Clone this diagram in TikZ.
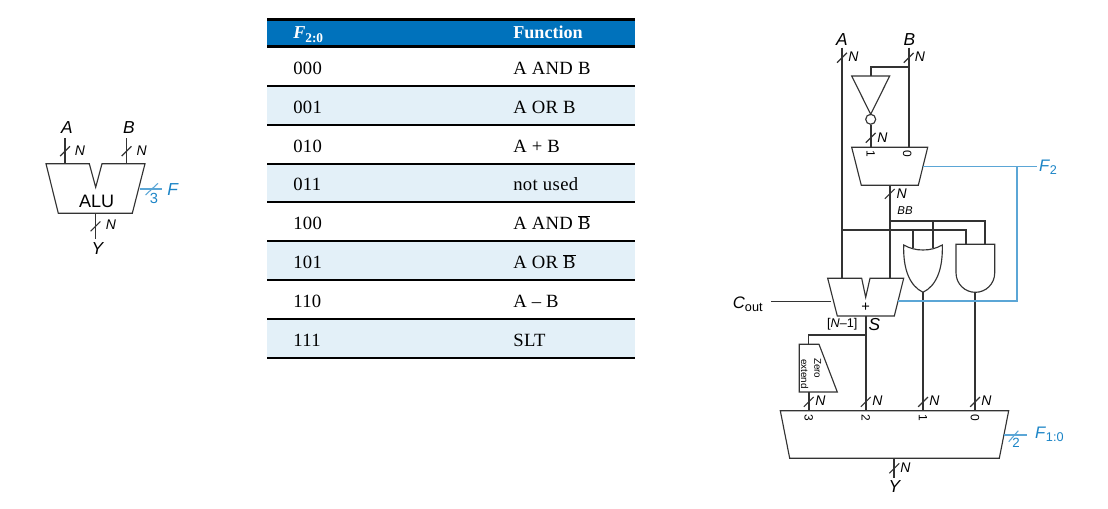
\documentclass[tikz,border=0pt]{standalone}
\usepackage{fontspec}
\setmainfont{Liberation Sans}
\newfontfamily\tabfont{Liberation Serif}[LetterSpace=2]
\newfontfamily\tabhfont{Liberation Serif}
\usetikzlibrary{calc}
\definecolor{wirec}{HTML}{333333}
\definecolor{bluet}{HTML}{1B84C6}
\definecolor{bluel}{HTML}{5BA6D6}
\definecolor{headb}{HTML}{0072BC}
\definecolor{rowb}{HTML}{E3F0F8}
\tikzset{
  wire/.style={draw=wirec,line width=1.3pt},
  thinw/.style={draw=wirec,line width=.9pt},
  gate/.style={draw=wirec,line width=.85pt,line join=miter},
  bluew/.style={draw=bluel,line width=1.2pt},
  lbl/.style={inner sep=0pt,text=black,font=\fontsize{13}{14}\selectfont\itshape},
  nlbl/.style={inner sep=0pt,text=black,font=\fontsize{10.5}{12}\selectfont\itshape},
  bb/.style={inner sep=0pt,text=black,font=\fontsize{8.5}{10}\selectfont\itshape},
  bluelbl/.style={inner sep=0pt,text=bluet,font=\fontsize{12.5}{14}\selectfont},
  pin/.style={inner sep=0pt,rotate=-90,text=black,font=\fontsize{9}{10}\selectfont},
  tabt/.style={inner sep=0pt,anchor=base west,font=\fontsize{14}{15}\tabfont},
  tabh/.style={inner sep=0pt,anchor=base west,text=white,font=\fontsize{13.6}{15}\tabhfont\bfseries},
  rulethin/.style={draw=black,line width=1.3pt},
  rulethick/.style={draw=black,line width=2.1pt},
}
\newcommand{\busmark}[1]{\draw[thinw] ([shift={(-4.9,4.9)}]#1) -- ([shift={(4.9,-4.9)}]#1);}
\newcommand{\barB}{$\overline{\mbox{\tabhfont B}}$}
\begin{document}
\begin{tikzpicture}[x=0.75pt,y=-0.75pt]
\useasboundingbox (0,0) rectangle (1108,509);
% ---------- table ----------
\fill[headb] (267,20) rectangle (635,46);
\fill[rowb] (267,86) rectangle (635,124.7);
\fill[rowb] (267,164) rectangle (635,201.7);
\fill[rowb] (267,240.7) rectangle (635,279.7);
\fill[rowb] (267,318.7) rectangle (635,357.7);
\draw[rulethick] (267,19.6) -- (635,19.6);
\draw[rulethick] (267,46.4) -- (635,46.4);
\foreach \yy in {86,124.7,164,201.7,240.7,279.7,318.7,357.7}
  \draw[rulethin] (267,\yy) -- (635,\yy);
\node[tabh] (h1) at (293,39) {\itshape F\raisebox{-2.5pt}{\upshape\fontsize{10}{11}\selectfont 2:0}};
\node[tabh] (h2) at (513,38.5) {Function};
\node[tabt] (c1a) at (293,75) {000};   \node[tabt] (c1b) at (513,75) {A AND B};
\node[tabt] (c2a) at (293,113.5) {001};\node[tabt] (c2b) at (513,113.5) {A OR B};
\node[tabt] (c3a) at (293,152.5) {010};\node[tabt] (c3b) at (513,152.5) {A + B};
\node[tabt] (c4a) at (293,191) {011};  \node[tabt] (c4b) at (513,191) {not used};
\node[tabt] (c5a) at (293,230) {100};  \node[tabt] (c5b) at (513,230) {A AND \barB};
\node[tabt] (c6a) at (293,269) {101};  \node[tabt] (c6b) at (513,269) {A OR \barB};
\node[tabt] (c7a) at (293,308) {110};  \node[tabt] (c7b) at (513,308) {A – B};
\node[tabt] (c8a) at (293,347) {111};  \node[tabt] (c8b) at (513,347) {SLT};
% ---------- small ALU symbol ----------
\draw[gate] (46,163.7) coordinate (aluTL) -- (89.3,163.7) -- (95.7,187.3) -- (102,163.7) -- (145,163.7) coordinate (aluTR)
  -- (132.3,213.3) -- (58.3,213.3) -- cycle;
\node[inner sep=0pt,font=\fontsize{13.5}{14}\selectfont] (alu) at (96.7,201) {ALU};
\node[lbl] (aluA) at (67,128) {A};
\node[lbl] (aluB) at (129,128) {B};
\node[lbl] (aluY) at (97.3,248.3) {Y};
\coordinate (aluAin) at (65,163.7);
\coordinate (aluBin) at (126.5,163.7);
\coordinate (aluAtop) at (65,138.3);
\coordinate (aluBtop) at (126.5,138.3);
\coordinate (aluYo) at (95.5,213.3);
\coordinate (aluYe) at (95.5,239.3);
\draw[wire] (aluAtop) -- (aluAin);
\draw[wire] (aluBtop) -- (aluBin);
\draw[wire] (aluYo) -- (aluYe);
\coordinate (m1) at (65,151.2); \busmark{m1}
\coordinate (m2) at (126.5,151.2); \busmark{m2}
\coordinate (m3) at (95.5,226.4); \busmark{m3}
\node[nlbl] (aluN1) at (80,150.7) {N};
\node[nlbl] (aluN2) at (141.7,150.7) {N};
\node[nlbl] (aluN3) at (111,225) {N};
\coordinate (aluFi) at (140,189);
\coordinate (aluFe) at (162.3,189);
\draw[bluew] (aluFi) -- (aluFe);
\draw[bluew,line width=.8pt] (145.5,195) -- (158,183.3);
\node[inner sep=0pt,text=bluet,font=\fontsize{11}{12}\selectfont] (alu3) at (154,198.5) {3};
\node[bluelbl,font=\fontsize{13}{14}\selectfont\itshape] (aluF) at (172.7,189.3) {F};
% ---------- full ALU: muxes and gates ----------
\draw[gate] (851.7,147.3) -- (927.7,147.3) -- (918.3,185.3) -- (861.3,185.3) -- cycle;
\draw[gate] (827.7,278.3) -- (861.7,278.3) -- (865.7,297.3) -- (870,278.3) -- (903.7,278.3)
  -- (894.3,316) -- (837.3,316) -- cycle;
\draw[gate] (780.3,410.7) -- (1008.7,410.7) -- (999.3,458.3) -- (789.7,458.3) -- cycle;
\draw[gate] (799.3,344.3) -- (819,344.3) -- (837.3,392) -- (799.3,392) -- cycle;
% inverter
\draw[gate] (851.7,76) -- (889.7,76) -- (870.7,114.3) -- cycle;
\node[circle,draw=wirec,line width=.85pt,minimum size=7.5pt,inner sep=0pt] (bub) at (870.7,119.3) {};
% OR gate
\draw[gate] (903.7,245) .. controls (910,248.5) and (916,250) .. (923,250)
  .. controls (930,250) and (936,248.5) .. (942.3,245)
  .. controls (943,270) and (936,286) .. (923,292.3)
  .. controls (910,286) and (903,270) .. (903.7,245) -- cycle;
% AND gate
\draw[gate] (956,244.3) -- (994.7,244.3) -- (994.7,273) arc[start angle=0,end angle=-180,radius=14.5pt] -- cycle;
% pin names
\coordinate (topA) at (842,47.7);
\coordinate (topB) at (908.7,47.7);
\coordinate (jB) at (908.7,66.7);
\coordinate (invFeedC) at (870.7,66.7);
\coordinate (invIn) at (870.7,76);
\coordinate (muxIn0) at (908.7,147.3);
\coordinate (muxIn1) at (870.7,147.3);
\coordinate (muxOut) at (889.7,185.3);
\coordinate (addA) at (842,278.3);
\coordinate (addB) at (889.7,278.3);
\coordinate (addS) at (865.7,316);
\coordinate (jAh) at (842,230.3);
\coordinate (jBBh) at (889.7,221);
\coordinate (orA) at (913.3,248.3);
\coordinate (orB) at (932.7,248.3);
\coordinate (orAh) at (913.3,230.3);
\coordinate (orBh) at (932.7,221);
\coordinate (andA) at (966,244.3);
\coordinate (andB) at (985,244.3);
\coordinate (andAh) at (966,230.3);
\coordinate (andBh) at (985,221);
\coordinate (orOut) at (923,292.3);
\coordinate (andOut) at (975,292.3);
\coordinate (bm3) at (808.7,410.7);
\coordinate (bm2) at (865.7,410.7);
\coordinate (bm1) at (923,410.7);
\coordinate (bm0) at (975,410.7);
\coordinate (zeS) at (865.7,335);
\coordinate (zeC) at (808.7,335);
\coordinate (zeIn) at (808.7,344.3);
\coordinate (zeOut) at (808.7,392);
\coordinate (bmOut) at (894.3,458.3);
\coordinate (bmEnd) at (894.3,478);
\coordinate (cIn) at (831,301.3);
\coordinate (cEnd) at (770.7,301.3);
% black wires
\draw[wire] (topA) -- (addA);
\draw[wire] (topB) -- (muxIn0);
\draw[wire] (jB) -- (invFeedC) -- (invIn);
\draw[wire] (bub) -- (muxIn1);
\draw[wire] (muxOut) -- (addB);
\draw[wire] (jAh) -- (andAh) -- (andA);
\draw[wire] (jBBh) -- (andBh) -- (andB);
\draw[wire] (orAh) -- (orA);
\draw[wire] (orBh) -- (orB);
\draw[wire] (orOut) -- (bm1);
\draw[wire] (andOut) -- (bm0);
\draw[wire] (addS) -- (bm2);
\draw[thinw] (zeS) -- (zeC) -- (zeIn);
\draw[wire] (zeOut) -- (bm3);
\draw[wire] (bmOut) -- (bmEnd);
\draw[thinw] (cIn) -- (cEnd);
% blue wires
\coordinate (f2in) at (923.3,166.7);
\coordinate (f2j) at (1017,166.7);
\coordinate (f2e) at (1036.7,166.7);
\coordinate (f2c) at (1017,301.3);
\coordinate (f2a) at (898.3,301.3);
\draw[bluew] (f2in) -- (f2e);
\draw[bluew] (f2j) -- (f2c) -- (f2a);
\coordinate (f10i) at (1004,435);
\coordinate (f10e) at (1027.3,435);
\draw[bluew] (f10i) -- (f10e);
\draw[bluew,line width=.8pt] (1008.7,441.7) -- (1018.3,430.7);
% bus marks
\coordinate (s1) at (842,57.8); \busmark{s1}
\coordinate (s2) at (908.7,57.8); \busmark{s2}
\coordinate (s3) at (870.7,137.8); \busmark{s3}
\coordinate (s4) at (889.7,193.9); \busmark{s4}
\coordinate (s5) at (808.7,401.9); \busmark{s5}
\coordinate (s6) at (865.7,401.9); \busmark{s6}
\coordinate (s7) at (923,401.9); \busmark{s7}
\coordinate (s8) at (975,401.9); \busmark{s8}
\coordinate (s9) at (894.3,468.3); \busmark{s9}
% labels
\node[lbl] (lA) at (842,40) {A};
\node[lbl] (lB) at (909.3,40) {B};
\node[nlbl] (n1) at (853.3,56.7) {N};
\node[nlbl] (n2) at (920,56.7) {N};
\node[nlbl] (n3) at (882.3,137.7) {N};
\node[nlbl] (n4) at (901.7,193.3) {N};
\node[nlbl] (n5) at (820.3,400.7) {N};
\node[nlbl] (n6) at (877.3,400.7) {N};
\node[nlbl] (n7) at (934.3,400.7) {N};
\node[nlbl] (n8) at (986.3,400.7) {N};
\node[nlbl] (n9) at (905.3,467.3) {N};
\node[bb] (lBB) at (905,211) {BB};
\node[pin] (p1) at (870.7,153.7) {1};
\node[pin] (p0) at (907.3,153.7) {0};
\node[inner sep=0pt,font=\fontsize{11}{12}\selectfont] (plus) at (865.7,307.3) {+};
\node[inner sep=0pt,font=\fontsize{9.5}{10}\selectfont] (nm1) at (842.3,324.3) {[\textit{N}–1]};
\node[lbl] (lS) at (874.3,325) {S};
\node[inner sep=0pt,text=black,font=\fontsize{12.5}{14}\selectfont] (lC) at (747.7,304) {\textit{C}\raisebox{-2pt}{\fontsize{9.5}{10}\selectfont out}};
\node[pin,font=\fontsize{7.4}{8}\selectfont] (ze1) at (817.7,368.3) {Zero};
\node[pin,font=\fontsize{7.4}{8}\selectfont] (ze2) at (804.7,374) {extend};
\node[pin] (q3) at (808.7,418.3) {3};
\node[pin] (q2) at (865.7,418.3) {2};
\node[pin] (q1) at (923,418.3) {1};
\node[pin] (q0) at (975,418.3) {0};
\node[lbl] (lY) at (894.3,486.7) {Y};
\node[bluelbl] (lF2) at (1048,167.5) {\textit{F}\raisebox{-2pt}{\fontsize{9.5}{10}\selectfont 2}};
\node[bluelbl] (lF10) at (1049.3,434) {\textit{F}\raisebox{-2pt}{\fontsize{9.5}{10}\selectfont 1:0}};
\node[inner sep=0pt,text=bluet,font=\fontsize{10}{10}\selectfont] (l2) at (1016,442.7) {2};
\end{tikzpicture}
\end{document}
